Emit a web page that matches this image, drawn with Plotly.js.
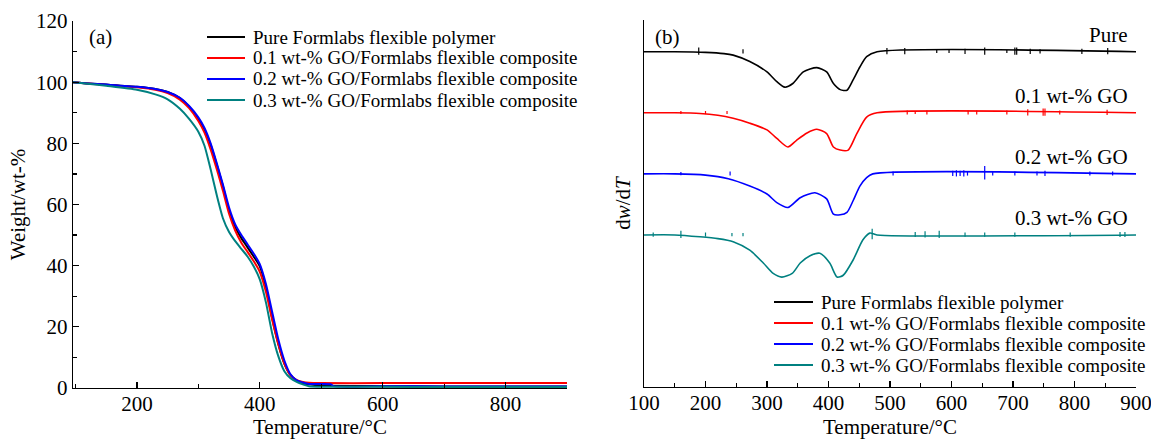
<!DOCTYPE html>
<html><head><meta charset="utf-8">
<script src="https://cdn.plot.ly/plotly-3.0.1.min.js"></script>
<style>html,body{margin:0;padding:0;background:#fff}</style>
</head><body><div id="chart" style="width:1151px;height:439px"></div>
<script>
// ---------- DATA ----------
const seriesNames = [
  'Pure Formlabs flexible polymer',
  '0.1 wt-% GO/Formlabs flexible composite',
  '0.2 wt-% GO/Formlabs flexible composite',
  '0.3 wt-% GO/Formlabs flexible composite'
];
const seriesColors = ['#000000', '#ff0000', '#0000ff', '#008080'];
const dtgLabels = ['Pure', '0.1 wt-% GO', '0.2 wt-% GO', '0.3 wt-% GO'];
const dtgOffsets = [3, 2, 1, 0];

// (a) TGA: temperature (°C) and weight (wt-%)
const tgaPureT = [96,120,150,200,230,250,270,285,300,310,320,330,340,350,360,370,380,390,400,410,420,430,440,450,460,470,480,500,600,700,800,900];
const tgaPureW = [100,99.6,99.2,98.5,97.8,96.8,94.8,92,88,84.5,79.5,73,66,58,52.5,49,46,43,39.8,33,23,14.5,8,4.2,2.5,1.6,1.2,0.8,0.6,0.5,0.5,0.5];
const tga01T = [96,120,150,200,230,250,270,285,300,310,320,330,340,350,360,370,380,390,400,410,420,430,440,450,460,470,480,500,600,700,800,900];
const tga01W = [100,99.6,99.1,98.3,97.5,96.4,94.3,91.5,87.3,83.5,78,71.5,64.5,57,51.5,47.5,44.5,41.5,38,31.5,22.5,14.5,8,4.2,2.6,2,1.7,1.6,1.6,1.6,1.6,1.6];
const tga02T = [96,120,150,200,230,250,270,285,300,310,320,330,340,350,360,370,380,390,400,410,420,430,440,450,460,470,480,516,520,600,700,800,900];
const tga02W = [100,99.6,99.2,98.5,97.8,96.8,94.9,92.2,88.5,85,80,73.5,66.5,59,53.5,50,47,44,40.5,34,25,16,9,4.5,2.5,1.8,1.3,1.2,0.6,0.6,0.5,0.5,0.5];
const tga03T = [96,120,150,200,230,250,270,285,300,310,320,330,340,350,360,370,380,390,400,410,420,430,440,450,460,470,480,600,700,800,900];
const tga03W = [100,99.5,98.8,97.5,96,94.4,91.3,88,83.8,79.2,71.5,63,55.5,51,48,45.5,43,39.8,35.5,28,18,10.5,5.5,3.2,2,1.2,0.6,0.4,0.3,0.3,0.3];

// (b) DTG: temperature (°C) and dw/dT (arbitrary units, baseline 0)
const dtgPureT = [100,150,200,230,245,272,300,316,329,342,359,381,397,408,419,430,440,451,462,479,900];
const dtgPureV = [0,0,-0.01,-0.03,-0.055,-0.16,-0.33,-0.49,-0.58,-0.52,-0.33,-0.26,-0.33,-0.52,-0.62,-0.63,-0.46,-0.25,-0.08,0,0];
const dtg01T = [100,150,191,220,245,272,300,316,334,348,365,381,397,408,419,432,446,462,479,900];
const dtg01V = [0,0,-0.01,-0.04,-0.09,-0.17,-0.28,-0.42,-0.56,-0.45,-0.33,-0.27,-0.34,-0.56,-0.61,-0.61,-0.34,-0.07,0,0];
const dtg02T = [100,150,200,237,272,300,316,334,354,378,397,408,419,430,440,451,462,472,900];
const dtg02V = [0,0,-0.02,-0.08,-0.2,-0.33,-0.47,-0.55,-0.39,-0.31,-0.41,-0.66,-0.67,-0.63,-0.44,-0.2,-0.06,0,0];
const dtg03T = [100,150,191,220,245,272,294,310,324,341,354,370,386,402,414,424,440,456,467,479,900];
const dtg03V = [0,0,-0.03,-0.06,-0.11,-0.25,-0.46,-0.63,-0.69,-0.63,-0.46,-0.34,-0.3,-0.46,-0.69,-0.66,-0.41,-0.08,0.03,0,0];

// (b) noise spikes: temperature and half-height
const spikePureT = [189,261,495,524,576,596,622,654,690,703,706,728,744,812,854];
const spikePureA = [0.07,0.04,0.06,0.06,0.03,0.03,0.05,0.07,0.03,0.07,0.07,0.05,0.04,0.05,0.06];
const spike01T = [160,200,235,528,541,560,627,641,690,724,749,752,776,853];
const spike01A = [0.03,0.03,0.03,0.04,0.03,0.04,0.04,0.04,0.04,0.06,0.07,0.07,0.04,0.05];
const spike02T = [160,240,505,602,608,614,620,626,654,667,703,739,752,825,862];
const spike02A = [0.03,0.04,0.04,0.05,0.06,0.05,0.06,0.04,0.13,0.04,0.04,0.04,0.05,0.04,0.04];
const spike03T = [115,160,200,243,261,471,541,557,580,622,654,703,793,874,882];
const spike03A = [0.04,0.07,0.04,0.03,0.03,0.1,0.05,0.06,0.07,0.04,0.04,0.04,0.04,0.05,0.05];

// ---------- BUILD ----------
const W = 1151, H = 439;
const FONT = 'Liberation Serif, Times New Roman, serif';
const px = x => x / W, py = y => 1 - y / H;

const tgaT = [tgaPureT, tga01T, tga02T, tga03T];
const tgaW = [tgaPureW, tga01W, tga02W, tga03W];
const dtgT = [dtgPureT, dtg01T, dtg02T, dtg03T];
const dtgV = [dtgPureV, dtg01V, dtg02V, dtg03V];
const spT = [spikePureT, spike01T, spike02T, spike03T];
const spA = [spikePureA, spike01A, spike02A, spike03A];

const traces = [];
for (let i = 0; i < 4; i++) {
  traces.push({x: tgaT[i], y: tgaW[i], type: 'scatter', mode: 'lines', name: seriesNames[i],
    line: {color: seriesColors[i], width: 2, shape: 'spline', smoothing: 0.6},
    xaxis: 'x', yaxis: 'y', showlegend: false, hoverinfo: 'skip'});
}
for (let i = 0; i < 4; i++) {
  traces.push({x: dtgT[i], y: dtgV[i].map(v => v + dtgOffsets[i]), type: 'scatter', mode: 'lines', name: seriesNames[i],
    line: {color: seriesColors[i], width: 1.6, shape: 'spline', smoothing: 0.7},
    xaxis: 'x2', yaxis: 'y2', showlegend: false, hoverinfo: 'skip'});
  const sx = [], sy = [];
  spT[i].forEach((t, k) => { sx.push(t, t, null); sy.push(dtgOffsets[i] - 0.7 * spA[i][k], dtgOffsets[i] + spA[i][k], null); });
  traces.push({x: sx, y: sy, type: 'scatter', mode: 'lines', line: {color: seriesColors[i], width: 1.2},
    xaxis: 'x2', yaxis: 'y2', showlegend: false, hoverinfo: 'skip'});
}

const axisCommon = {
  showline: true, linecolor: '#000', linewidth: 1.3, showgrid: false, zeroline: false,
  ticks: 'inside', ticklen: 6, tickwidth: 1.2, tickcolor: '#000', ticklabeloverflow: 'allow',
  tickfont: {family: FONT, size: 21, color: '#000'}
};
const titleFont = {family: FONT, size: 21, color: '#000'};

const shapes = [], annotations = [];
// legends (drawn as samples + text)
const legA = {x0: 207, x1: 245, tx: 251, rows: [37, 58, 79, 100]};
const legB = {x0: 774, x1: 813, tx: 819, rows: [302, 323, 344, 365]};
[legA, legB].forEach(L => {
  L.rows.forEach((r, i) => {
    shapes.push({type: 'line', xref: 'paper', yref: 'paper', x0: px(L.x0), x1: px(L.x1), y0: py(r), y1: py(r),
      line: {color: seriesColors[i], width: 2}});
    annotations.push({xref: 'paper', yref: 'paper', x: px(L.tx), y: py(r), xanchor: 'left', yanchor: 'middle',
      text: seriesNames[i], showarrow: false, font: {family: FONT, size: 19, color: '#000'}});
  });
});
annotations.push({xref: 'paper', yref: 'paper', x: px(87), y: py(37), xanchor: 'left', yanchor: 'middle',
  text: '(a)', showarrow: false, font: titleFont});
annotations.push({xref: 'paper', yref: 'paper', x: px(653), y: py(37), xanchor: 'left', yanchor: 'middle',
  text: '(b)', showarrow: false, font: titleFont});
for (let i = 0; i < 4; i++) {
  annotations.push({xref: 'x2', yref: 'y2', x: 890, y: dtgOffsets[i] + 0.28, xanchor: 'right', yanchor: 'middle',
    text: dtgLabels[i], showarrow: false, font: titleFont});
}

const layout = {
  width: W, height: H, autosize: false,
  margin: {l: 0, r: 0, t: 0, b: 0},
  paper_bgcolor: '#fff', plot_bgcolor: 'rgba(0,0,0,0)',
  showlegend: false,
  xaxis: Object.assign({}, axisCommon, {
    domain: [px(73), px(567)], anchor: 'y', range: [96, 900], dtick: 200, tick0: 0, ticklabelstandoff: -4,
    minor: {ticks: 'inside', ticklen: 4, dtick: 100, tick0: 0, tickcolor: '#000', tickwidth: 1.2},
    title: {text: 'Temperature/°C', font: titleFont, standoff: 9}
  }),
  yaxis: Object.assign({}, axisCommon, {
    domain: [py(388), py(21)], anchor: 'x', range: [0, 120], dtick: 20, tick0: 0,
    minor: {ticks: 'inside', ticklen: 4, dtick: 10, tick0: 0, tickcolor: '#000', tickwidth: 1.2},
    title: {text: 'Weight/wt-%', font: titleFont, standoff: 4}
  }),
  xaxis2: Object.assign({}, axisCommon, {
    domain: [px(644), px(1136)], anchor: 'y2', range: [100, 900], dtick: 100, tick0: 0, ticklabelstandoff: -4,
    minor: {ticks: 'inside', ticklen: 4, dtick: 50, tick0: 0, tickcolor: '#000', tickwidth: 1.2},
    title: {text: 'Temperature/°C', font: titleFont, standoff: 9}
  }),
  yaxis2: Object.assign({}, axisCommon, {
    domain: [py(387), py(20)], anchor: 'x2', range: [-2.49, 3.52], ticks: '', showticklabels: false,
    title: {text: 'd<i>w</i>/d<i>T</i>', font: titleFont, standoff: 6}
  }),
  shapes: shapes,
  annotations: annotations
};

Plotly.newPlot('chart', traces, layout, {staticPlot: true, displayModeBar: false});
</script>
</body></html>
